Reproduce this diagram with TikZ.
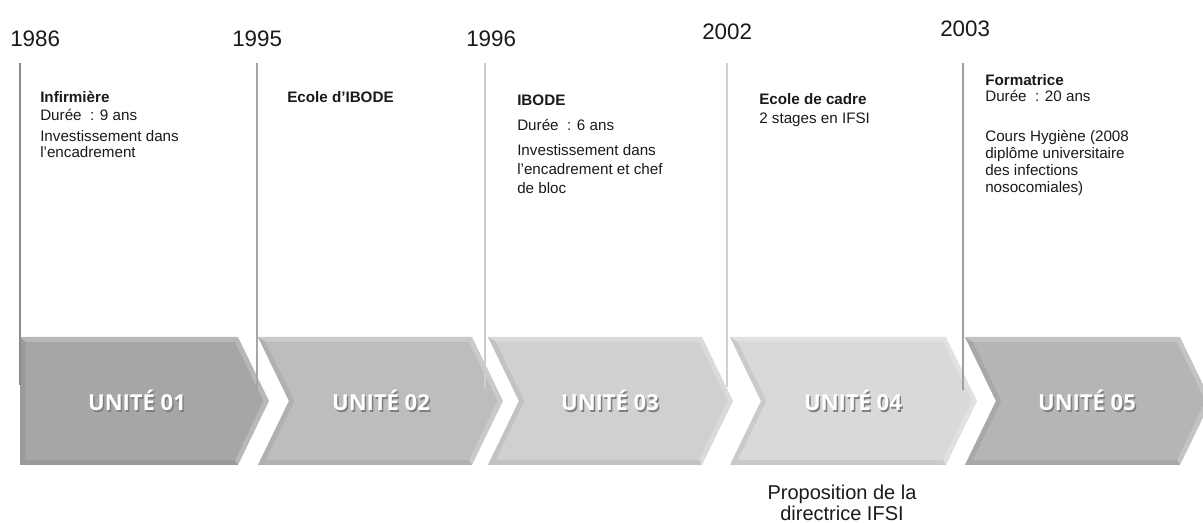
\documentclass[tikz,border=0pt]{standalone}
\usepackage{fontspec}
\setmainfont{Liberation Sans}
\newfontfamily\unitfont{Open Sans}
\definecolor{cA}{HTML}{A6A6A6}
\definecolor{cB}{HTML}{BDBDBD}
\definecolor{cC}{HTML}{D0D0D0}
\definecolor{cD}{HTML}{D9D9D9}
\definecolor{cE}{HTML}{B5B5B5}
\definecolor{tx}{HTML}{1A1A1A}
\newcommand\mychev[3]{%
  \fill[#3!80!white] (#1,337) -- ({#2-31},337) -- (#2,401) -- ({#2-31},465) -- (#1,465) -- ({#1+31},401) -- cycle;
  \fill[#3!93!black] (#1,337) -- ({#1+31},401) -- (#1,465) -- ({#2-31},465) -- ({#2-34.1},460) -- ({#1+8},460) -- ({#1+36.6},401) -- ({#1+8},342) -- cycle;
  \fill[#3] ({#1+8},342) -- ({#2-34.1},342) -- ({#2-5.6},401) -- ({#2-34.1},460) -- ({#1+8},460) -- ({#1+36.6},401) -- cycle;
}
\newcommand\myunit[3]{%
  \node[unit,text=black!50] at ({#1+1.5},412.5) {#2};
  \node[unit] (#3) at (#1,411) {#2};
}
\tikzset{
  txt/.style={anchor=base west, inner sep=0pt, text=tx, font=\fontsize{11.4}{13}\selectfont},
  txtb/.style={txt, font=\fontsize{11.4}{13}\selectfont\bfseries},
  yr/.style={anchor=base west, inner sep=0pt, text=tx, font=\fontsize{16.8}{19}\selectfont},
  unit/.style={anchor=base, inner sep=0pt, text=white, font=\unitfont\bfseries\fontsize{16.5}{20}\selectfont},
  vline/.style={line width=1.1pt},
  prop/.style={anchor=base, inner sep=0pt, text=tx, font=\fontsize{15}{18}\selectfont}
}
\begin{document}
\begin{tikzpicture}[x=0.75pt,y=-0.75pt]
\useasboundingbox (0,0) rectangle (1203,523);
\clip (0,0) rectangle (1203,523);
\fill[white] (0,0) rectangle (1203,523);
% chevron 1 (flat left)
\fill[cA!80!white] (20,337) -- (238,337) -- (269,401) -- (238,465) -- (20,465) -- cycle;
\fill[cA!93!black] (20,337) -- (20,465) -- (238,465) -- (234.9,460) -- (25,460) -- (25,342) -- cycle;
\fill[cA] (25,342) -- (234.9,342) -- (263.4,401) -- (234.9,460) -- (25,460) -- cycle;
\mychev{258}{503}{cB}
\mychev{488}{733}{cC}
\mychev{730}{977}{cD}
\mychev{965}{1211}{cE}
% units
\myunit{137}{UNITÉ 01}{u1}
\myunit{381}{UNITÉ 02}{u2}
\myunit{610}{UNITÉ 03}{u3}
\myunit{853}{UNITÉ 04}{u4}
\myunit{1087}{UNITÉ 05}{u5}
% vertical lines
\coordinate (a1) at (20,63);  \coordinate (b1) at (20,385);
\coordinate (a2) at (257,63); \coordinate (b2) at (257,395);
\coordinate (a3) at (485,63); \coordinate (b3) at (485,390);
\coordinate (a4) at (727,63); \coordinate (b4) at (727,387);
\coordinate (a5) at (963,63); \coordinate (b5) at (963,390);
\draw[vline, draw=black!45] (a1) -- (b1);
\draw[vline, draw=black!35] (a2) -- (b2);
\draw[vline, draw=black!20] (a3) -- (b3);
\draw[vline, draw=black!18] (a4) -- (b4);
\draw[vline, draw=black!38] (a5) -- (b5);
% years
\node[yr] (y1) at (10,46.7) {1986};
\node[yr] (y2) at (232,46.7) {1995};
\node[yr] (y3) at (466,46.7) {1996};
\node[yr] (y4) at (702,40) {2002};
\node[yr] (y5) at (940,36.7) {2003};
% block 1
\node[txtb] (t11) at (40,103) {Infirmière};
\node[txt] (t12) at (40,121) {Durée\ \ : 9 ans};
\node[txt] (t13) at (40,142) {Investissement dans};
\node[txt] (t14) at (40,158) {l’encadrement};
% block 2
\node[txtb] (t21) at (287,103) {Ecole d’IBODE};
% block 3
\node[txtb] (t31) at (517,106) {IBODE};
\node[txt] (t32) at (517,130.7) {Durée\ \ : 6 ans};
\node[txt] (t33) at (517,156) {Investissement dans};
\node[txt] (t34) at (517,175) {l’encadrement et chef};
\node[txt] (t35) at (517,194) {de bloc};
% block 4
\node[txtb] (t41) at (759,105) {Ecole de cadre};
\node[txt] (t42) at (759,124) {2 stages en IFSI};
% block 5
\node[txtb] (t51) at (985,86) {Formatrice};
\node[txt] (t52) at (985,102) {Durée\ \ : 20 ans};
\node[txt] (t53) at (985,141.7) {Cours Hygiène (2008};
\node[txt] (t54) at (985,159) {diplôme universitaire};
\node[txt] (t55) at (985,176) {des infections};
\node[txt] (t56) at (985,192.7) {nosocomiales)};
% bottom note
\node[prop] (p1) at (842,500) {Proposition de la};
\node[prop] (p2) at (842,521) {directrice IFSI};
\end{tikzpicture}
\end{document}
